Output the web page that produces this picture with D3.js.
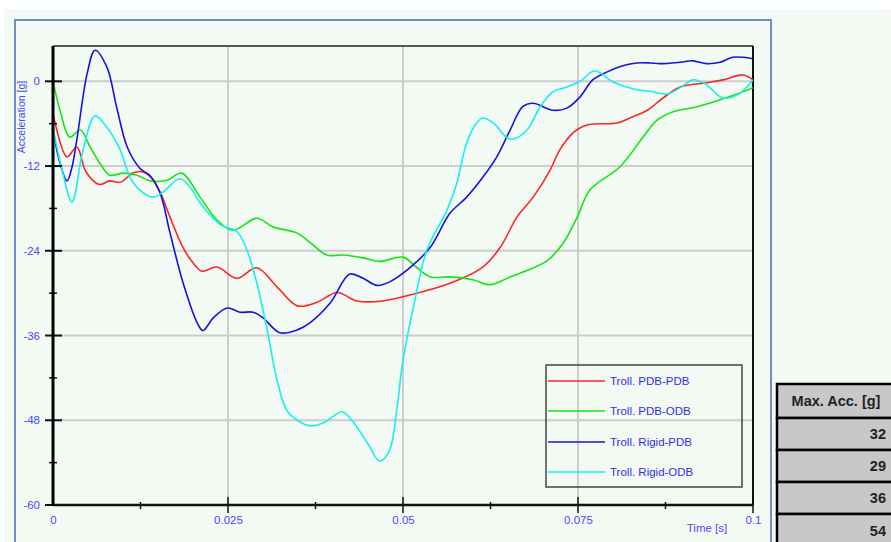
<!DOCTYPE html>
<html>
<head>
<meta charset="utf-8">
<script src="https://cdn.jsdelivr.net/npm/d3@7"></script>
<style>
  html, body { margin: 0; padding: 0; background: #ffffff; }
  svg { display: block; }
</style>
</head>
<body>
<svg id="chart" width="891" height="542"></svg>
<script>
// Crash-pulse acceleration traces for four trolley configurations
const seriesNames = ["Troll. PDB-PDB", "Troll. PDB-ODB", "Troll. Rigid-PDB", "Troll. Rigid-ODB"];
const seriesColors = ["#ff2424", "#14e614", "#1414dc", "#14f0f0"];

const tPdbPdb = [0, 0.0020, 0.0034, 0.0047, 0.0066, 0.0081, 0.0096, 0.0114, 0.0127, 0.0139, 0.0153, 0.0167, 0.0186, 0.0200, 0.0213, 0.0234, 0.0263, 0.0291, 0.0320, 0.0349, 0.0377, 0.0406, 0.0434, 0.0471, 0.0520, 0.0567, 0.0614, 0.0639, 0.0663, 0.0686, 0.0710, 0.0724, 0.0743, 0.0763, 0.0806, 0.0824, 0.0849, 0.0871, 0.0896, 0.0934, 0.0957, 0.0986, 0.1];
const aPdbPdb = [-4.5, -10.7, -9.3, -12.8, -14.6, -14.1, -14.3, -13.0, -12.8, -13.5, -15.7, -19.2, -23.6, -25.7, -26.9, -26.3, -27.9, -26.4, -29.1, -31.8, -31.3, -29.9, -31.1, -31.1, -30.0, -28.6, -26.3, -23.5, -19.2, -16.4, -12.6, -9.7, -7.3, -6.2, -5.9, -5.2, -4.1, -2.4, -0.8, -0.2, 0.2, 0.9, 0.2];

const tPdbOdb = [0, 0.0010, 0.0024, 0.0039, 0.0053, 0.0067, 0.0081, 0.0100, 0.0120, 0.0139, 0.0163, 0.0184, 0.0210, 0.0234, 0.0257, 0.0291, 0.0314, 0.0349, 0.0367, 0.0391, 0.0414, 0.0443, 0.0467, 0.0500, 0.0520, 0.0539, 0.0567, 0.0600, 0.0624, 0.0653, 0.0677, 0.0706, 0.0729, 0.0749, 0.0767, 0.0810, 0.0843, 0.0863, 0.0886, 0.0920, 0.0953, 0.0977, 0.1];
const aPdbOdb = [0, -4.1, -7.9, -6.9, -9.3, -11.6, -13.3, -13.0, -13.3, -14.1, -14.0, -13.0, -16.4, -19.6, -21.1, -19.4, -20.6, -21.5, -22.8, -24.6, -24.6, -25.0, -25.5, -24.9, -26.4, -27.7, -27.7, -28.1, -28.8, -27.7, -26.8, -25.4, -22.9, -19.2, -15.4, -12.1, -7.9, -5.5, -4.3, -3.6, -2.6, -1.8, -0.9];

const tRigidPdb = [0, 0.0010, 0.0020, 0.0027, 0.0034, 0.0049, 0.0060, 0.0077, 0.0091, 0.0106, 0.0124, 0.0139, 0.0153, 0.0167, 0.0186, 0.0206, 0.0214, 0.0229, 0.0249, 0.0267, 0.0286, 0.0300, 0.0324, 0.0349, 0.0367, 0.0396, 0.0424, 0.0443, 0.0463, 0.0481, 0.0510, 0.0539, 0.0567, 0.0591, 0.0614, 0.0634, 0.0653, 0.0671, 0.0686, 0.0714, 0.0734, 0.0753, 0.0771, 0.0791, 0.0814, 0.0834, 0.0853, 0.0867, 0.0896, 0.0914, 0.0934, 0.0953, 0.0971, 0.0986, 0.1];
const aRigidPdb = [-6.9, -11.6, -14.1, -12.2, -8.3, 1.2, 4.4, 2.0, -3.7, -9.3, -12.3, -13.4, -15.8, -21.4, -28.6, -34.2, -35.3, -33.5, -32.1, -32.7, -32.7, -33.5, -35.6, -35.2, -34.2, -31.4, -27.3, -27.9, -28.9, -28.4, -26.4, -23.5, -18.7, -16.4, -13.6, -10.7, -6.9, -3.6, -3.1, -4.1, -3.8, -2.2, 0.2, 1.3, 2.2, 2.6, 2.6, 2.5, 2.7, 2.9, 2.5, 2.7, 3.4, 3.4, 3.2];

const tRigidOdb = [0, 0.0014, 0.0027, 0.0043, 0.0060, 0.0077, 0.0096, 0.0110, 0.0124, 0.0143, 0.0157, 0.0181, 0.0196, 0.0210, 0.0239, 0.0263, 0.0277, 0.0291, 0.0306, 0.0320, 0.0334, 0.0349, 0.0367, 0.0386, 0.0413, 0.0427, 0.0449, 0.0467, 0.0481, 0.0491, 0.0500, 0.0517, 0.0534, 0.0563, 0.0577, 0.0591, 0.0606, 0.0614, 0.0629, 0.0649, 0.0657, 0.0677, 0.0696, 0.0714, 0.0734, 0.0753, 0.0774, 0.0800, 0.0834, 0.0853, 0.0877, 0.0896, 0.0914, 0.0924, 0.0934, 0.0953, 0.0963, 0.0981, 0.1];
const aRigidOdb = [-6.6, -13.0, -17.1, -9.7, -4.9, -6.5, -9.7, -13.6, -15.4, -16.4, -15.7, -13.8, -15.0, -17.2, -20.3, -21.3, -23.9, -28.5, -35.2, -42.3, -46.6, -48.0, -48.8, -48.4, -46.8, -48.0, -51.2, -53.8, -52.2, -46.6, -39.5, -31.0, -23.9, -18.2, -14.4, -8.7, -5.8, -5.2, -5.9, -8.0, -8.2, -6.9, -3.6, -1.5, -0.8, 0.0, 1.5, -0.1, -1.2, -1.4, -1.8, -0.9, 0.2, 0.0, -0.5, -2.2, -2.4, -1.7, 0.2];

const seriesTimes = [tPdbPdb, tPdbOdb, tRigidPdb, tRigidOdb];
const seriesValues = [aPdbPdb, aPdbOdb, aRigidPdb, aRigidOdb];

const maxAccHeader = "Max. Acc. [g]";
const maxAcc = [32, 29, 36, 54];

const xTickValues = [0, 0.025, 0.05, 0.075, 0.1];
const xTickLabels = ["0", "0.025", "0.05", "0.075", "0.1"];
const yTickValues = [0, -12, -24, -36, -48, -60];
const yTickLabels = ["0", "-12", "-24", "-36", "-48", "-60"];
const yMinorValues = [-6, -18, -30, -42, -54];
const xMinorValues = [0.0125, 0.0375, 0.0625, 0.0875];

const svg = d3.select("#chart");
const W = 891, H = 542;
const plot = { left: 53, top: 46, right: 753, bottom: 505 };
const font = "'Liberation Sans', Arial, sans-serif";
const labelBlue = "#4a4af5";

// page + panel background
svg.append("rect").attr("x", 0).attr("y", 0).attr("width", W).attr("height", H).attr("fill", "#ffffff");
svg.append("rect").attr("x", 4).attr("y", 9).attr("width", W - 4).attr("height", H - 9).attr("fill", "#f3f9f3");
svg.append("rect").attr("x", 15).attr("y", 20).attr("width", 756).attr("height", 560)
  .attr("fill", "#f3f9f3").attr("stroke", "#6f8fbf").attr("stroke-width", 2);

const x = d3.scaleLinear().domain([0, 0.1]).range([plot.left, plot.right]);
const y = d3.scaleLinear().domain([-60, 5]).range([plot.bottom, plot.top]);

// grid
const grid = svg.append("g").attr("stroke", "#cdcdcd").attr("stroke-width", 2);
grid.selectAll("line.v").data(xTickValues.slice(1, -1)).join("line")
  .attr("x1", d => x(d)).attr("x2", d => x(d)).attr("y1", plot.top).attr("y2", plot.bottom);
grid.selectAll("line.h").data(yTickValues.slice(0, -1)).join("line")
  .attr("x1", plot.left).attr("x2", plot.right).attr("y1", d => y(d)).attr("y2", d => y(d));

// frame
svg.append("line").attr("x1", plot.left).attr("x2", plot.right).attr("y1", plot.top).attr("y2", plot.top)
  .attr("stroke", "#555").attr("stroke-width", 2);
svg.append("line").attr("x1", plot.right).attr("x2", plot.right).attr("y1", plot.top).attr("y2", plot.bottom)
  .attr("stroke", "#111").attr("stroke-width", 2);

// traces
svg.append("clipPath").attr("id", "plotClip").append("rect")
  .attr("x", plot.left).attr("y", plot.top).attr("width", plot.right - plot.left).attr("height", plot.bottom - plot.top);
const line = d3.line().x(d => x(d[0])).y(d => y(d[1])).curve(d3.curveCatmullRom.alpha(0.5));
const traces = svg.append("g").attr("clip-path", "url(#plotClip)");
seriesNames.forEach((name, i) => {
  const pts = seriesTimes[i].map((t, k) => [t, seriesValues[i][k]]);
  traces.append("path").datum(pts).attr("d", line)
    .attr("fill", "none").attr("stroke", seriesColors[i]).attr("stroke-width", 1.6);
});

// y axis
const yAxis = d3.axisLeft(y).tickValues(yTickValues).tickSize(0).tickPadding(13)
  .tickFormat((d, i) => yTickLabels[i]);
const yg = svg.append("g").attr("transform", `translate(${plot.left},0)`).call(yAxis);
yg.select(".domain").remove();
yg.selectAll("text").attr("fill", labelBlue).attr("font-family", font).attr("font-size", 11.5);
svg.append("g").selectAll("line").data(yTickValues).join("line")
  .attr("x1", plot.left - 8).attr("x2", plot.left + 9).attr("y1", d => y(d)).attr("y2", d => y(d))
  .attr("stroke", "#111").attr("stroke-width", 2);
svg.append("g").selectAll("line").data(yMinorValues).join("line")
  .attr("x1", plot.left - 4).attr("x2", plot.left + 4).attr("y1", d => y(d)).attr("y2", d => y(d))
  .attr("stroke", "#111").attr("stroke-width", 1.5);

// x axis
const xAxis = d3.axisBottom(x).tickValues(xTickValues).tickSize(0).tickPadding(11)
  .tickFormat((d, i) => xTickLabels[i]);
const xg = svg.append("g").attr("transform", `translate(0,${plot.bottom})`).call(xAxis);
xg.select(".domain").remove();
xg.selectAll("text").attr("fill", labelBlue).attr("font-family", font).attr("font-size", 11.5);
svg.append("g").selectAll("line").data(xTickValues.slice(1)).join("line")
  .attr("x1", d => x(d)).attr("x2", d => x(d)).attr("y1", plot.bottom - 8).attr("y2", plot.bottom + 8)
  .attr("stroke", "#111").attr("stroke-width", 1.5);
svg.append("g").selectAll("line").data(xMinorValues).join("line")
  .attr("x1", d => x(d)).attr("x2", d => x(d)).attr("y1", plot.bottom - 3).attr("y2", plot.bottom + 4)
  .attr("stroke", "#111").attr("stroke-width", 1.5);

// axis lines
svg.append("line").attr("x1", plot.left).attr("x2", plot.right).attr("y1", plot.bottom).attr("y2", plot.bottom)
  .attr("stroke", "#111").attr("stroke-width", 2.5);
svg.append("line").attr("x1", plot.left).attr("x2", plot.left).attr("y1", plot.top).attr("y2", plot.bottom + 1)
  .attr("stroke", "#000").attr("stroke-width", 3);

// axis titles
svg.append("text").attr("transform", "translate(25,117) rotate(-90)")
  .attr("text-anchor", "middle").attr("fill", labelBlue).attr("font-family", font).attr("font-size", 10.5)
  .text("Acceleration [g]");
svg.append("text").attr("x", 707).attr("y", 532).attr("text-anchor", "middle")
  .attr("fill", labelBlue).attr("font-family", font).attr("font-size", 11.5).text("Time [s]");

// legend
const legend = svg.append("g");
legend.append("rect").attr("x", 546).attr("y", 365).attr("width", 196).attr("height", 122)
  .attr("fill", "none").attr("stroke", "#444").attr("stroke-width", 1.5);
const legendY = [381, 411, 442, 472];
seriesNames.forEach((name, i) => {
  legend.append("line").attr("x1", 548).attr("x2", 605).attr("y1", legendY[i]).attr("y2", legendY[i])
    .attr("stroke", seriesColors[i]).attr("stroke-width", 1.5);
  legend.append("text").attr("x", 610).attr("y", legendY[i] + 4).attr("fill", "#2f2fe8")
    .attr("font-family", font).attr("font-size", 11.5).text(name);
});

// max acceleration table
const table = svg.append("g");
const tblX = 777, tblW = 130;
const rowTops = [384, 418, 450, 482, 514];
const rowBottoms = [418, 450, 482, 514, 548];
const rows = [maxAccHeader].concat(maxAcc.map(String));
rows.forEach((txt, i) => {
  table.append("rect").attr("x", tblX).attr("y", rowTops[i]).attr("width", tblW)
    .attr("height", rowBottoms[i] - rowTops[i]).attr("fill", "#c8c8c8").attr("stroke", "#000").attr("stroke-width", 2.5);
});
rows.forEach((txt, i) => {
  const cy = (rowTops[i] + rowBottoms[i]) / 2 + 5;
  if (i === 0) {
    table.append("text").attr("x", 836).attr("y", cy).attr("text-anchor", "middle")
      .attr("font-family", font).attr("font-weight", "bold").attr("font-size", 14.5).attr("fill", "#222").text(txt);
  } else {
    table.append("text").attr("x", 886).attr("y", cy).attr("text-anchor", "end")
      .attr("font-family", font).attr("font-weight", "bold").attr("font-size", 14.5).attr("fill", "#222").text(txt);
  }
});
</script>
</body>
</html>
